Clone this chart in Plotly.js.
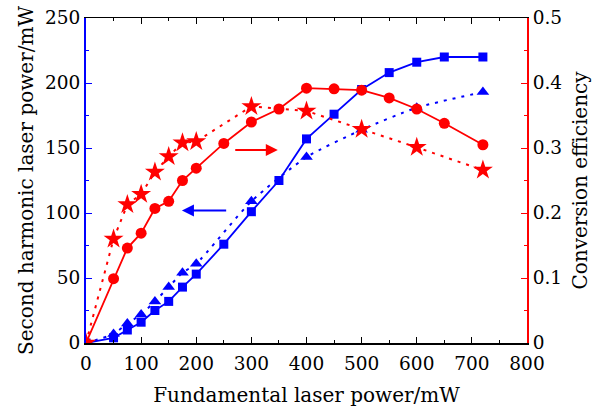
<!DOCTYPE html>
<html>
<head>
<meta charset="utf-8">
<script src="https://cdn.plot.ly/plotly-3.0.1.min.js"></script>
<style>html,body{margin:0;padding:0;background:#fff}#chart{width:603px;height:407px}</style>
</head>
<body>
<div id="chart"></div>
<script>
// Blue: second harmonic power (left axis, mW)
const xSquares = [0, 50, 75, 100, 125, 150, 175, 200, 250, 300, 350, 400, 450, 500, 550, 600, 650, 720];
const ySquares = [0, 4, 10, 16, 25, 32, 43, 53, 76, 101, 125, 157, 176, 195, 208, 216, 220, 220];
const xTriangles = [0, 50, 75, 100, 125, 150, 175, 200, 300, 400, 500, 600, 720];
const yTriangles = [0, 7, 15, 22, 32, 43, 54, 61, 109, 143, 164, 181, 193];
// Red: conversion efficiency (right axis)
const xCircles = [0, 50, 75, 100, 125, 150, 175, 200, 250, 300, 350, 400, 450, 500, 550, 600, 650, 720];
const yCircles = [0, 0.099, 0.146, 0.169, 0.207, 0.218, 0.250, 0.269, 0.307, 0.340, 0.360, 0.392, 0.391, 0.389, 0.377, 0.360, 0.338, 0.305];
const xStars = [0, 50, 75, 100, 125, 150, 175, 200, 300, 400, 500, 600, 720];
const yStars = [0, 0.160, 0.213, 0.229, 0.263, 0.287, 0.308, 0.310, 0.364, 0.357, 0.329, 0.301, 0.266];
// Arrows [headX, tailX, y] in left-axis data units
const redArrow = [348, 268, 148.5];
const blueArrow = [174, 257, 102];

const BLUE = '#0000ff', RED = '#ff0000';
const FONT = 'DejaVu Serif, Liberation Serif, serif';
const TICK = 18.5, TITLE = 20;

const traces = [
  {x: xSquares, y: ySquares, mode: 'lines+markers', line: {color: BLUE, width: 1.8},
   marker: {symbol: 'square', size: 9, color: BLUE}, yaxis: 'y'},
  {x: xTriangles, y: yTriangles, mode: 'lines+markers', line: {color: BLUE, width: 2, dash: '3px,6px', shape: 'spline', smoothing: 0.6},
   marker: {symbol: 'triangle-up', size: 11, color: BLUE}, yaxis: 'y'},
  {x: xCircles, y: yCircles, mode: 'lines+markers', line: {color: RED, width: 1.8},
   marker: {symbol: 'circle', size: 11, color: RED}, yaxis: 'y2'},
  {x: xStars, y: yStars, mode: 'lines+markers', line: {color: RED, width: 2, dash: '3px,6px'},
   marker: {symbol: 'star', size: 15, color: RED}, yaxis: 'y2'}
];

const layout = {
  width: 603, height: 407,
  margin: {l: 86, r: 76, t: 18, b: 64},
  paper_bgcolor: '#fff', plot_bgcolor: '#fff',
  showlegend: false,
  font: {family: FONT, size: TICK, color: '#000'},
  xaxis: {
    range: [0, 800], tickvals: [0,100,200,300,400,500,600,700,800],
    ticks: 'inside', ticklen: 6, tickwidth: 1, tickcolor: '#000',
    minor: {tickvals: [50,150,250,350,450,550,650,750], ticks: 'inside', ticklen: 3, tickcolor: '#000'},
    showline: true, linecolor: '#000', linewidth: 1.5, mirror: 'ticks',
    showgrid: false, zeroline: false, ticklabelstandoff: 3,
    title: {text: 'Fundamental laser power/mW', font: {family: FONT, size: TITLE}, standoff: 16},
    tickfont: {family: FONT, size: TICK}
  },
  yaxis: {
    range: [0, 250], tickvals: [0,50,100,150,200,250],
    ticks: 'inside', ticklen: 6, tickwidth: 1, tickcolor: BLUE,
    minor: {tickvals: [25,75,125,175,225], ticks: 'inside', ticklen: 3, tickcolor: BLUE},
    showline: true, linecolor: BLUE, linewidth: 2,
    showgrid: false, zeroline: false,
    title: {text: 'Second harmonic laser power/mW', font: {family: FONT, size: TITLE}, standoff: 6},
    tickfont: {family: FONT, size: TICK}
  },
  yaxis2: {
    range: [0, 0.5], tickvals: [0,0.1,0.2,0.3,0.4,0.5], ticktext: ['0','0.1','0.2','0.3','0.4','0.5'],
    overlaying: 'y', side: 'right',
    ticks: 'inside', ticklen: 6, tickwidth: 1, tickcolor: RED,
    minor: {tickvals: [0.05,0.15,0.25,0.35,0.45], ticks: 'inside', ticklen: 3, tickcolor: RED},
    showline: true, linecolor: RED, linewidth: 2,
    showgrid: false, zeroline: false,
    title: {text: 'Conversion efficiency', font: {family: FONT, size: TITLE}, standoff: 12},
    tickfont: {family: FONT, size: TICK}
  },
  annotations: [
    {x: redArrow[0], y: redArrow[2], ax: redArrow[1], ay: redArrow[2], xref: 'x', yref: 'y', axref: 'x', ayref: 'y',
     showarrow: true, arrowhead: 2, arrowsize: 1.2, arrowwidth: 2, arrowcolor: RED, text: ''},
    {x: blueArrow[0], y: blueArrow[2], ax: blueArrow[1], ay: blueArrow[2], xref: 'x', yref: 'y', axref: 'x', ayref: 'y',
     showarrow: true, arrowhead: 2, arrowsize: 1.2, arrowwidth: 2, arrowcolor: BLUE, text: ''}
  ]
};

Plotly.newPlot('chart', traces, layout, {displayModeBar: false, staticPlot: true});
</script>
</body>
</html>
